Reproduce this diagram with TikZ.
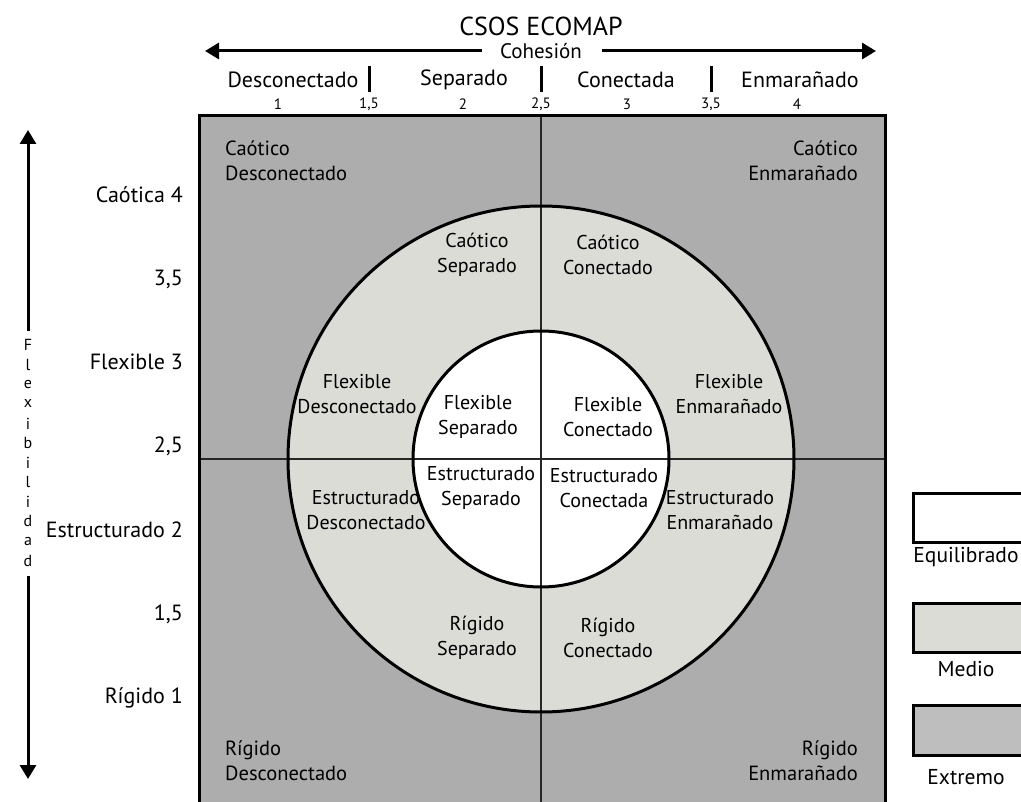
\documentclass[tikz,border=0pt]{standalone}
\usepackage{fontspec}
\setmainfont{PT Sans}
\usetikzlibrary{arrows.meta}
\definecolor{extremo}{HTML}{ADADAD}
\definecolor{medio}{HTML}{DCDCD7}
\definecolor{extremoleg}{HTML}{BEBEBE}
\begin{document}
\begin{tikzpicture}[x=1pt,y=-1pt,
  lbl/.style={font=\fontsize{22}{26}\selectfont, align=center, inner sep=0pt},
  clbl/.style={font=\fontsize{20}{24.5}\selectfont, align=center, inner sep=0pt},
  lbll/.style={font=\fontsize{20.5}{25}\selectfont, inner sep=0pt, align=left, anchor=west},
  lblc/.style={font=\fontsize{20.5}{25}\selectfont, inner sep=0pt, align=right, anchor=east},
  lblr/.style={lbl, align=right, anchor=east},
  num/.style={font=\fontsize{15}{17}\selectfont, inner sep=0pt},
  vlet/.style={font=\fontsize{16}{18}\selectfont, inner sep=0pt},
  bigarrow/.style={line width=3pt, -{Triangle[length=14pt,width=16pt]}},
  divider/.style={line width=2pt, black!85},
  ring/.style={line width=3pt},
  bar/.style={line width=3pt},
  legbox/.style={draw, line width=3pt}]
\useasboundingbox (0,0) rectangle (1021,802);
\begin{scope}
\clip (0,0) rectangle (1021,802);
% fields
\fill[extremo] (199,116) rectangle (885,803);
\fill[medio] (541,459) circle (253);
\fill[white] (541,459) circle (128);
% dividers
\coordinate (vt) at (541,116);
\coordinate (vb) at (541,803);
\coordinate (hl) at (199,459);
\coordinate (hr) at (885,459);
\draw[divider] (vt) -- (vb);
\draw[divider] (hl) -- (hr);
\draw[ring] (541,459) circle (253);
\draw[ring] (541,459) circle (128);
\draw[line width=3pt] (199,116) rectangle (885,803);

% title and cohesion axis
\node[font=\fontsize{26}{30}\selectfont, inner sep=0pt] (title) at (541,26) {CSOS ECOMAP};
\node[font=\fontsize{21}{24}\selectfont, inner sep=0pt] (coh) at (541,51) {Cohesión};
\coordinate (cohL) at (205,51);
\coordinate (cohR) at (876,51);
\draw[bigarrow] ([xshift=-18pt]coh.west) -- (cohL);
\draw[bigarrow] ([xshift=20pt]coh.east) -- (cohR);

\node[lbl] (hDes) at (293,80) {Desconectado};
\node[lbl] (hSep) at (464,80) {Separado};
\node[lbl] (hCon) at (626,80) {Conectada};
\node[lbl] (hEnm) at (800,80) {Enmarañado};
\coordinate (b1t) at (369,66); \coordinate (b1b) at (369,92);
\coordinate (b2t) at (541,66); \coordinate (b2b) at (541,92);
\coordinate (b3t) at (711,66); \coordinate (b3b) at (711,92);
\draw[bar] (b1t) -- (b1b);
\draw[bar] (b2t) -- (b2b);
\draw[bar] (b3t) -- (b3b);

\node[num] (n1) at (278,104) {1};
\node[num] (n15) at (369,104) {1,5};
\node[num] (n2) at (463,104) {2};
\node[num] (n25) at (541,104) {2,5};
\node[num] (n3) at (627,104) {3};
\node[num] (n35) at (711,104) {3,5};
\node[num] (n4) at (797,104) {4};

% flexibility axis
\node[lblr] (fC4) at (183,195) {Caótica 4};
\node[lblr] (f35) at (183,279) {3,5};
\node[lblr] (fF3) at (183,362) {Flexible 3};
\node[lblr] (f25) at (183,446) {2,5};
\node[lblr] (fE2) at (183,530) {Estructurado 2};
\node[lblr] (f15) at (183,614) {1,5};
\node[lblr] (fR1) at (183,698) {Rígido 1};

\foreach \l [count=\i] in {F,l,e,x,i,b,i,l,i,d,a,d}{
  \node[vlet] (v\i) at (28,{345+(\i-1)*19.6}) {\l};
}
\coordinate (vTop) at (28,130);
\coordinate (vBot) at (28,779);
\draw[bigarrow] ([yshift=8pt]v1.north) -- (vTop);
\draw[bigarrow] ([yshift=-10pt]v12.south) -- (vBot);

% extreme corners
\node[lbll] (cDes) at (225,161) {Caótico\\Desconectado};
\node[lblc] (cEnm) at (858,161) {Caótico\\Enmarañado};
\node[lbll] (rDes) at (225,761) {Rígido\\Desconectado};
\node[lblc] (rEnm) at (858,761) {Rígido\\Enmarañado};

% mid ring
\node[clbl] (cSep) at (477,255) {Caótico\\Separado};
\node[clbl] (cCon) at (608,255) {Caótico\\Conectado};
\node[clbl] (fDes) at (357,394) {Flexible\\Desconectado};
\node[clbl] (fEnm) at (729,394) {Flexible\\Enmarañado};
\node[clbl] (eDes) at (366,510) {Estructurado\\Desconectado};
\node[clbl] (eEnm) at (720,510) {Estructurado\\Enmarañado};
\node[clbl] (rSep) at (477,638) {Rígido\\Separado};
\node[clbl] (rCon) at (608,638) {Rígido\\Conectado};

% balanced core
\node[clbl] (fSep) at (478,417) {Flexible\\Separado};
\node[clbl] (fCon) at (608,417) {Flexible\\Conectado};
\node[clbl] (eSep) at (481,488) {Estructurado\\Separado};
\node[clbl] (eCon) at (604,488) {Estructurado\\Conectada};

% legend
\draw[legbox, fill=white] (913,493) rectangle (1022,542);
\node[font=\fontsize{21.5}{25}\selectfont, inner sep=0pt] (lEq) at (966,557) {Equilibrado};
\draw[legbox, fill=medio] (913,603) rectangle (1022,652);
\node[font=\fontsize{21.5}{25}\selectfont, inner sep=0pt] (lMe) at (966,669) {Medio};
\draw[legbox, fill=extremoleg] (913,705) rectangle (1022,755);
\node[font=\fontsize{21.5}{25}\selectfont, inner sep=0pt] (lEx) at (966,777) {Extremo};
\end{scope}
\end{tikzpicture}
\end{document}
